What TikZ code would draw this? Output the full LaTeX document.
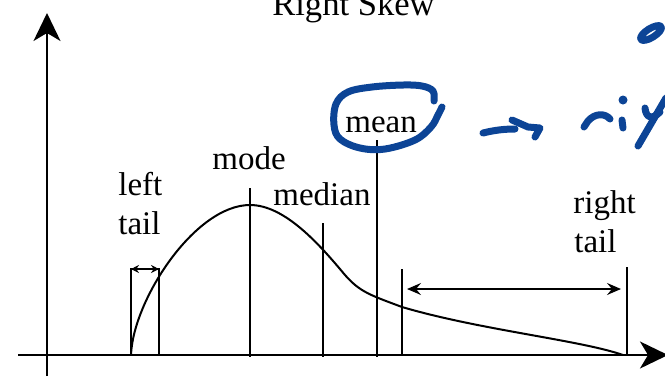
\documentclass[tikz,border=0pt]{standalone}
\usepackage{fontspec}
\setmainfont{Liberation Serif}
\usetikzlibrary{arrows.meta}
\definecolor{pen}{RGB}{12,68,150}
\tikzset{
  lbl/.style={inner sep=0pt, anchor=base west, font=\fontsize{16.5}{19.5}\selectfont},
  vline/.style={line width=0.8pt},
  axis/.style={line width=1pt, -{Stealth[length=14pt,width=13.5pt,inset=4pt]}},
  hand/.style={draw=pen, line width=3.5pt, line cap=round, line join=round},
}
\begin{document}
\begin{tikzpicture}[x=0.5pt,y=-0.5pt]
  \useasboundingbox (0,0) rectangle (665,377);
  \coordinate (o) at (47,355);
  \coordinate (ytop) at (47,13);
  \coordinate (ybot) at (47,376);
  \coordinate (xleft) at (18,355);
  \coordinate (xright) at (668,355);
  \draw[axis] (ybot) -- (ytop);
  \draw[axis] (xleft) -- (xright);
  \node[inner sep=0pt, anchor=base, font=\fontsize{17.3}{20}\selectfont] (title) at (353.5,15) {Right Skew};
  % the skewed curve
  \draw[line width=1pt] (131,355) .. controls (133,300) and (195,205) .. (250,205)
    .. controls (285,205) and (320,245) .. (345,275)
    .. controls (360,292) and (370,295) .. (402,307)
    .. controls (480,330) and (580,340) .. (623,355);
  % left tail
  \coordinate (lta) at (131,269);
  \coordinate (ltb) at (159,269);
  \draw[vline] (lta |- o) -- (lta) -- (ltb) -- (ltb |- o);
  \draw[line width=0.6pt, {Stealth[length=4pt,width=4pt]}-{Stealth[length=4pt,width=4pt]}] (lta) -- (ltb);
  \node[lbl] (left) at (118,195) {left};
  \node[lbl] (lefttail) at (118,234) {tail};
  % mode, median, mean
  \coordinate (mode) at (250,188);
  \coordinate (median) at (323,223);
  \coordinate (mean) at (377,140);
  \draw[vline] (mode) -- ([yshift=-1pt]mode |- o);
  \draw[vline] (median) -- ([yshift=-1pt]median |- o);
  \draw[vline] (mean) -- ([yshift=-1pt]mean |- o);
  \node[lbl] (modelbl) at (212,169) {mode};
  \node[lbl] (medianlbl) at (273,205) {median};
  \node[lbl] (meanlbl) at (345,132) {mean};
  % right tail
  \coordinate (rta) at (402,269);
  \coordinate (rtb) at (627,267);
  \coordinate (ra) at (407,289);
  \coordinate (rb) at (621,289);
  \draw[vline] (rta) -- (rta |- o);
  \draw[vline] (rtb) -- (rtb |- o);
  \draw[line width=0.8pt, {Stealth[length=7pt,width=6pt,inset=2.5pt]}-{Stealth[length=7pt,width=6pt,inset=2.5pt]}] (ra) -- (rb);
  \node[lbl] (right) at (573,213) {right};
  \node[lbl] (righttail) at (574,252) {tail};
  % pen notes
  \draw[hand] plot[smooth, tension=0.6] coordinates {(434,101) (433,91) (422,86) (403,85) (372,87) (348,92) (336,104) (334,125) (340,139) (360,148) (385,149) (415,140) (431,127) (438,115) (442,107)};
  \draw[hand] (483,133) .. controls (495,130) and (505,129) .. (515,129);
  \draw[hand] (512,120) -- (528,127) -- (540,128) -- (535,137);
  \draw[hand] (584,127) -- (588,121) .. controls (595,113) and (605,113) .. (610,119);
  \fill[pen] (623,100) circle (4.5);
  \draw[hand] (622,120) -- (623,128);
  \draw[hand] (645,108) .. controls (646,118) and (652,120) .. (660,112);
  \draw[hand] (666,98) -- (638,146);
  \draw[hand, rotate around={32:(651,33)}] (651,33) ellipse [x radius=12, y radius=4.5];
\end{tikzpicture}
\end{document}
